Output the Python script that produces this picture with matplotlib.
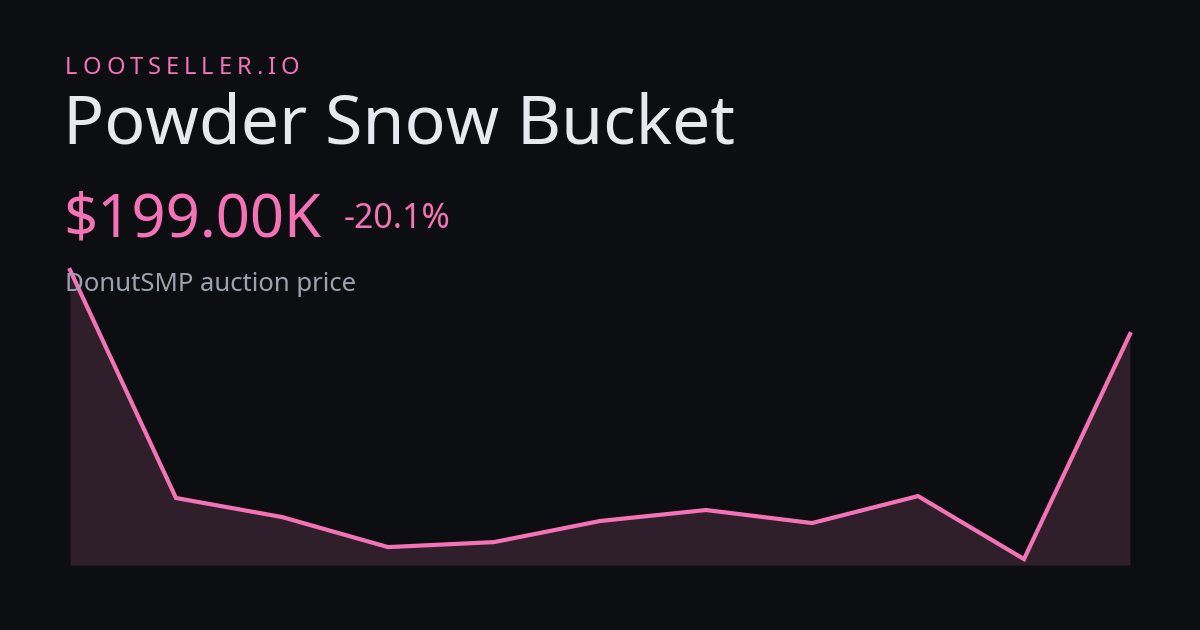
import matplotlib.pyplot as plt
import numpy as np

# price history (thousands of $)
points = list(range(11))
prices = [249.1, 70.8, 55.9, 32.4, 36.3, 52.8, 61.4, 51.2, 72.3, 23.0, 199.0]

brand = "LOOTSELLER.IO"
item_name = "Powder Snow Bucket"
price_label = "$199.00K"
change_label = "-20.1%"
subtitle = "DonutSMP auction price"

bg = "#0d0e12"
pink = "#f472b6"
fill = "#2f1f2b"

W, H = 1200, 630
fig = plt.figure(figsize=(W / 100, H / 100), dpi=100, facecolor=bg)
plt.rcParams['font.family'] = ['Noto Sans', 'DejaVu Sans']

def fy(px):
    return 1 - px / H

def fx(px):
    return px / W

# chart area in pixels: x 70..1130, y 270..565
ax = fig.add_axes([fx(70), fy(565), fx(1130) - fx(70), (565 - 270) / H])
ax.set_facecolor(bg)
ax.fill_between(points, prices, 18.4, color=fill, linewidth=0)
ax.plot(points, prices, color=pink, linewidth=3, solid_joinstyle='miter', clip_on=False)
ax.set_xlim(0, 10)
ax.set_ylim(18.4, 249.1)
ax.axis('off')

# letter-spaced brand line
renderer = fig.canvas.get_renderer()
x = 65
for ch in brand:
    t = fig.text(fx(x), fy(74), ch, color=pink, fontsize=17, va='baseline', ha='left')
    w = t.get_window_extent(renderer).width
    x += w + 5.0

fig.text(fx(63), fy(144), item_name, color="#e8e9ee", fontsize=49, va='baseline', ha='left')
fig.text(fx(63), fy(237), price_label, color=pink, fontsize=43, va='baseline', ha='left')
fig.text(fx(344), fy(228), change_label, color=pink, fontsize=24.5, va='baseline', ha='left')
fig.text(fx(65), fy(291), subtitle, color="#9ca3af", fontsize=18.5, va='baseline', ha='left')

fig.savefig("out.png", dpi=100, facecolor=bg)
